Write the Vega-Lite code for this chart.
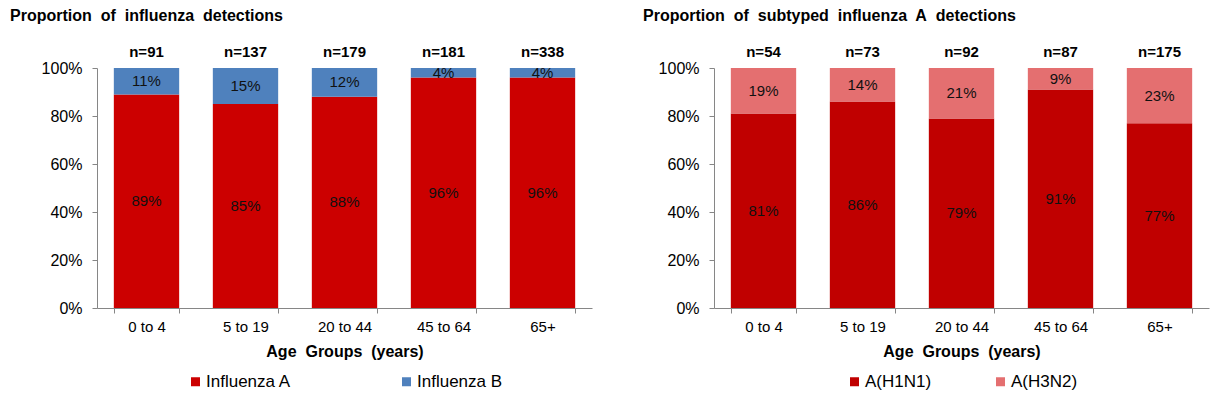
{
  "$schema": "https://vega.github.io/schema/vega-lite/v6.json",
  "padding": {"left": 10, "top": 8, "right": 5, "bottom": 5},
  "background": "white",
  "config": {
    "font": "Liberation Sans",
    "view": {"stroke": null},
    "axis": {"domainColor": "#868686", "tickColor": "#868686", "labelColor": "#000000", "labelFont": "Liberation Sans", "labelFontSize": 15, "titleFont": "Liberation Sans", "grid": false},
    "legend": {"labelFont": "Liberation Sans", "labelFontSize": 17, "labelColor": "#000000", "layout": {"bottom": {"anchor": "middle"}}},
    "title": {"font": "Liberation Sans", "fontSize": 16, "fontWeight": "bold", "color": "#000000"}
  },
  "resolve": {"scale": {"color": "independent"}, "legend": {"color": "independent"}},
  "datasets": {
    "flu": [
      {"age": "0 to 4", "type": "Influenza A", "pct": 89},
      {"age": "0 to 4", "type": "Influenza B", "pct": 11},
      {"age": "5 to 19", "type": "Influenza A", "pct": 85},
      {"age": "5 to 19", "type": "Influenza B", "pct": 15},
      {"age": "20 to 44", "type": "Influenza A", "pct": 88},
      {"age": "20 to 44", "type": "Influenza B", "pct": 12},
      {"age": "45 to 64", "type": "Influenza A", "pct": 96},
      {"age": "45 to 64", "type": "Influenza B", "pct": 4},
      {"age": "65+", "type": "Influenza A", "pct": 96},
      {"age": "65+", "type": "Influenza B", "pct": 4}
    ],
    "fluN": [
      {"age": "0 to 4", "label": "n=91"},
      {"age": "5 to 19", "label": "n=137"},
      {"age": "20 to 44", "label": "n=179"},
      {"age": "45 to 64", "label": "n=181"},
      {"age": "65+", "label": "n=338"}
    ],
    "sub": [
      {"age": "0 to 4", "type": "A(H1N1)", "pct": 81},
      {"age": "0 to 4", "type": "A(H3N2)", "pct": 19},
      {"age": "5 to 19", "type": "A(H1N1)", "pct": 86},
      {"age": "5 to 19", "type": "A(H3N2)", "pct": 14},
      {"age": "20 to 44", "type": "A(H1N1)", "pct": 79},
      {"age": "20 to 44", "type": "A(H3N2)", "pct": 21},
      {"age": "45 to 64", "type": "A(H1N1)", "pct": 91},
      {"age": "45 to 64", "type": "A(H3N2)", "pct": 9},
      {"age": "65+", "type": "A(H1N1)", "pct": 77},
      {"age": "65+", "type": "A(H3N2)", "pct": 23}
    ],
    "subN": [
      {"age": "0 to 4", "label": "n=54"},
      {"age": "5 to 19", "label": "n=73"},
      {"age": "20 to 44", "label": "n=92"},
      {"age": "45 to 64", "label": "n=87"},
      {"age": "65+", "label": "n=175"}
    ]
  },
  "hconcat": [
    {
      "width": 495,
      "height": 240,
      "title": {"text": "Proportion\u00a0 of\u00a0 influenza\u00a0 detections", "anchor": "start", "frame": "bounds", "dx": -31, "offset": 21},
      "layer": [
        {
          "data": {"name": "flu"},
          "mark": {"type": "bar"},
          "encoding": {
            "x": {"field": "age", "type": "nominal", "sort": ["0 to 4", "5 to 19", "20 to 44", "45 to 64", "65+"],
                  "scale": {"paddingInner": 0.34, "paddingOuter": 0.17},
                  "axis": {"title": "Age\u00a0 Groups\u00a0 (years)", "titleFontSize": 16, "titleFontWeight": "bold", "labelAngle": 0, "tickBand": "extent", "tickSize": 5, "labelPadding": 6, "titlePadding": 9}},
            "y": {"field": "pct", "type": "quantitative", "stack": "zero", "scale": {"domain": [0, 100]},
                  "axis": {"title": null, "values": [0, 20, 40, 60, 80, 100], "labelExpr": "datum.value + '%'", "tickSize": 5, "labelPadding": 10, "labelFontSize": 16}},
            "color": {"field": "type", "type": "nominal", "scale": {"domain": ["Influenza A", "Influenza B"], "range": ["#CC0000", "#4F81BD"]},
                      "legend": {"title": null, "orient": "bottom", "direction": "horizontal", "symbolType": "square", "symbolSize": 81, "symbolStrokeWidth": 0, "columnPadding": 106, "labelOffset": 2, "offset": 14}},
            "order": {"field": "type", "sort": "ascending"}
          }
        },
        {
          "data": {"name": "flu"},
          "transform": [{"calculate": "datum.pct + '%'", "as": "lab"}],
          "mark": {"type": "text", "fontSize": 15, "color": "#111111"},
          "encoding": {
            "x": {"field": "age", "type": "nominal", "sort": ["0 to 4", "5 to 19", "20 to 44", "45 to 64", "65+"]},
            "y": {"field": "pct", "type": "quantitative", "stack": "zero", "bandPosition": 0.5},
            "detail": {"field": "type"},
            "order": {"field": "type", "sort": "ascending"},
            "text": {"field": "lab"}
          }
        },
        {
          "data": {"name": "fluN"},
          "mark": {"type": "text", "fontSize": 15, "fontWeight": "bold", "color": "#000000", "dy": -16},
          "encoding": {
            "x": {"field": "age", "type": "nominal", "sort": ["0 to 4", "5 to 19", "20 to 44", "45 to 64", "65+"]},
            "y": {"datum": 100},
            "text": {"field": "label"}
          }
        }
      ]
    },
    {
      "width": 495,
      "height": 240,
      "title": {"text": "Proportion\u00a0 of\u00a0 subtyped\u00a0 influenza\u00a0 A\u00a0 detections", "anchor": "start", "frame": "bounds", "dx": -15, "offset": 21},
      "layer": [
        {
          "data": {"name": "sub"},
          "mark": {"type": "bar"},
          "encoding": {
            "x": {"field": "age", "type": "nominal", "sort": ["0 to 4", "5 to 19", "20 to 44", "45 to 64", "65+"],
                  "scale": {"paddingInner": 0.34, "paddingOuter": 0.17},
                  "axis": {"title": "Age\u00a0 Groups\u00a0 (years)", "titleFontSize": 16, "titleFontWeight": "bold", "labelAngle": 0, "tickBand": "extent", "tickSize": 5, "labelPadding": 6, "titlePadding": 9}},
            "y": {"field": "pct", "type": "quantitative", "stack": "zero", "scale": {"domain": [0, 100]},
                  "axis": {"title": null, "values": [0, 20, 40, 60, 80, 100], "labelExpr": "datum.value + '%'", "tickSize": 5, "labelPadding": 10, "labelFontSize": 16}},
            "color": {"field": "type", "type": "nominal", "scale": {"domain": ["A(H1N1)", "A(H3N2)"], "range": ["#C00000", "#E46F70"]},
                      "legend": {"title": null, "orient": "bottom", "direction": "horizontal", "symbolType": "square", "symbolSize": 81, "symbolStrokeWidth": 0, "columnPadding": 60, "labelOffset": 2, "offset": 14}},
            "order": {"field": "type", "sort": "ascending"}
          }
        },
        {
          "data": {"name": "sub"},
          "transform": [{"calculate": "datum.pct + '%'", "as": "lab"}],
          "mark": {"type": "text", "fontSize": 15, "color": "#111111"},
          "encoding": {
            "x": {"field": "age", "type": "nominal", "sort": ["0 to 4", "5 to 19", "20 to 44", "45 to 64", "65+"]},
            "y": {"field": "pct", "type": "quantitative", "stack": "zero", "bandPosition": 0.5},
            "detail": {"field": "type"},
            "order": {"field": "type", "sort": "ascending"},
            "text": {"field": "lab"}
          }
        },
        {
          "data": {"name": "subN"},
          "mark": {"type": "text", "fontSize": 15, "fontWeight": "bold", "color": "#000000", "dy": -16},
          "encoding": {
            "x": {"field": "age", "type": "nominal", "sort": ["0 to 4", "5 to 19", "20 to 44", "45 to 64", "65+"]},
            "y": {"datum": 100},
            "text": {"field": "label"}
          }
        }
      ]
    }
  ],
  "spacing": 51
}
